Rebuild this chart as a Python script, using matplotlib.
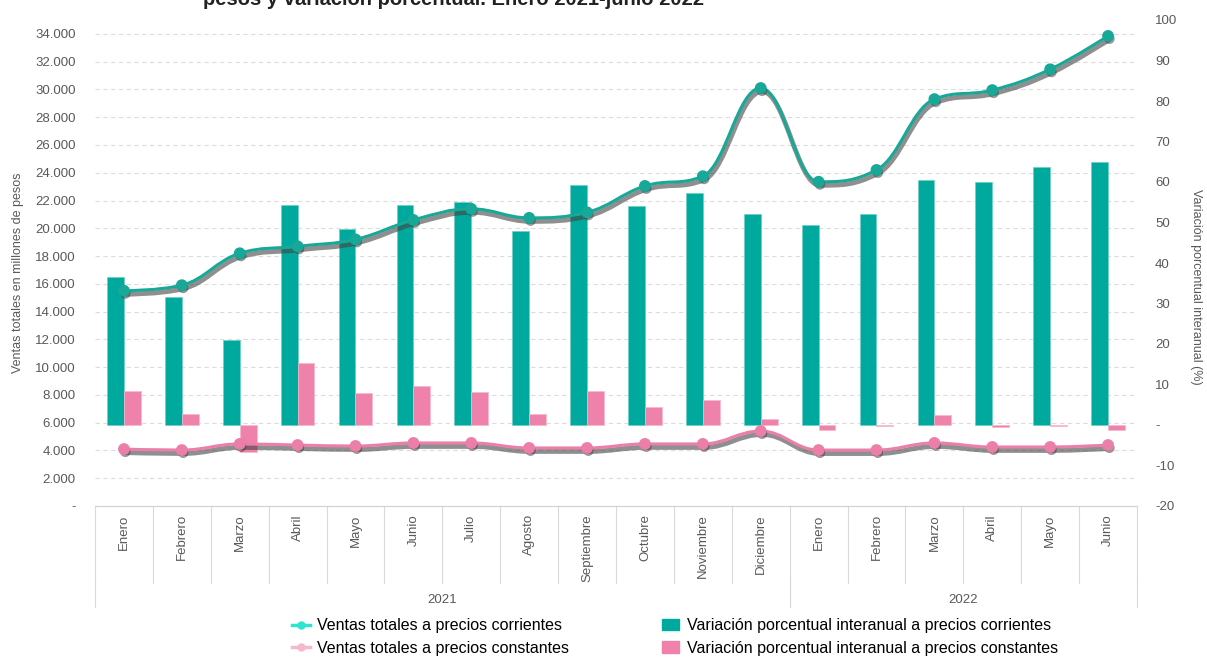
# Ventas totales y variación porcentual, enero 2021 - junio 2022

import numpy as np
import matplotlib
import matplotlib.pyplot as plt
import matplotlib.patheffects as pe
from matplotlib.path import Path
from matplotlib.patches import PathPatch
from matplotlib.lines import Line2D
from matplotlib.patches import Patch
from matplotlib.ticker import FuncFormatter

matplotlib.rcParams['font.family'] = ['Liberation Sans', 'DejaVu Sans']

# Dati

meses = ['Enero', 'Febrero', 'Marzo', 'Abril', 'Mayo', 'Junio', 'Julio', 'Agosto',
         'Septiembre', 'Octubre', 'Noviembre', 'Diciembre',
         'Enero', 'Febrero', 'Marzo', 'Abril', 'Mayo', 'Junio']
anios = ['2021', '2022']
meses_por_anio = [12, 6]

ventas_corrientes = [15500, 15900, 18200, 18700, 19200, 20600, 21400, 20750, 21150,
                     23050, 23750, 30100, 23350, 24200, 29300, 29950, 31450, 33850]
ventas_constantes = [4100, 4030, 4470, 4390, 4320, 4540, 4540, 4180, 4180,
                     4470, 4470, 5400, 4030, 4030, 4540, 4250, 4250, 4390]
var_corrientes = [36.6, 31.7, 21.0, 54.2, 48.3, 54.2, 55.0, 48.0, 59.2,
                  54.0, 57.2, 52.2, 49.5, 52.0, 60.6, 59.9, 63.6, 64.9]
var_constantes = [8.4, 2.7, -6.7, 15.3, 7.9, 9.7, 8.2, 2.7, 8.4,
                  4.5, 6.2, 1.5, -1.3, -0.3, 2.4, -0.6, -0.3, -1.2]

teal = '#00A99D'
pink = '#EE82AB'
txt = '#595959'


def spline_path(x, y):
    # curva tipo "spline" (maniglie di Bezier che passano per i punti)
    n = len(x)
    lc = [(x[i], y[i]) for i in range(n)]
    rc = [(x[i], y[i]) for i in range(n)]
    for i in range(1, n - 1):
        px, py, cx, cy, nx, ny = x[i-1], y[i-1], x[i], y[i], x[i+1], y[i+1]
        lx = (1.5 * cx + px) / 2.5
        ly = (1.5 * cy + py) / 2.5
        rx = (1.5 * cx + nx) / 2.5
        ry = (1.5 * cy + ny) / 2.5
        corr = (ry - ly) * (rx - cx) / (rx - lx) + cy - ry
        ly += corr
        ry += corr
        if ly > py and ly > cy:
            ly = max(py, cy); ry = 2 * cy - ly
        elif ly < py and ly < cy:
            ly = min(py, cy); ry = 2 * cy - ly
        if ry > ny and ry > cy:
            ry = max(ny, cy); ly = 2 * cy - ry
        elif ry < ny and ry < cy:
            ry = min(ny, cy); ly = 2 * cy - ry
        lc[i] = (lx, ly)
        rc[i] = (rx, ry)
    verts = [(x[0], y[0])]
    codes = [Path.MOVETO]
    for i in range(1, n):
        verts += [rc[i-1], lc[i], (x[i], y[i])]
        codes += [Path.CURVE4] * 3
    return Path(verts, codes)


x = np.arange(len(meses))

fig = plt.figure(figsize=(12.07, 6.57), dpi=100)
ax = fig.add_axes([95/1207, 1 - 506/657, (1137-95)/1207, 486/657])
ax2 = ax.twinx()
ax3 = ax.twinx()

# asse sinistro: griglia
ax.set_xlim(-0.5, len(meses) - 0.5)
ax.set_ylim(0, 35000)
ax.set_yticks(np.arange(0, 34001, 2000))
ax.yaxis.set_major_formatter(FuncFormatter(lambda v, p: '-' if v == 0 else f'{v:,.0f}'.replace(',', '.')))
ax.yaxis.grid(True, linestyle=(0, (4, 3)), color='#dcdcdc', linewidth=0.8)
ax.set_axisbelow(True)
ax.tick_params(axis='y', length=0, pad=14, labelsize=9.5, labelcolor=txt)
ax.set_xticks([])
for s in ['top', 'right', 'left']:
    ax.spines[s].set_visible(False)
ax.spines['bottom'].set_color('#d0d0d0')

# asse destro: barre
w = 0.29
ax2.bar(x - w/2, var_corrientes, w, color=teal, edgecolor='#6fd0c8', linewidth=0.5)
ax2.bar(x + w/2, var_constantes, w, color=pink, edgecolor='#f5b8cc', linewidth=0.5)
ax2.set_ylim(-20, 100)
ax2.set_yticks(np.arange(-20, 101, 10))
ax2.yaxis.set_major_formatter(FuncFormatter(lambda v, p: '-' if v == 0 else f'{v:.0f}'))
ax2.tick_params(axis='y', length=0, pad=13, labelsize=9.5, labelcolor=txt)
for s in ax2.spines.values():
    s.set_visible(False)

# linee
ax3.set_ylim(0, 35000)
ax3.set_yticks([])
for s in ax3.spines.values():
    s.set_visible(False)
ombra = [pe.SimpleLineShadow(offset=(1, -2.5), shadow_color='#444444', alpha=0.6, linewidth=3.5), pe.Normal()]
ombra_pt = [pe.SimplePatchShadow(offset=(1, -2), shadow_rgbFace='#444444', alpha=0.55), pe.Normal()]
for serie, col in [(ventas_corrientes, '#17A898'), (ventas_constantes, '#EC7FAA')]:
    patch = PathPatch(spline_path(x, serie), facecolor='none', edgecolor=col, linewidth=2.2)
    patch.set_path_effects(ombra)
    ax3.add_patch(patch)
    ax3.plot(x, serie, 'o', color=col, markersize=7.5, path_effects=ombra_pt)

# categorie asse x (mesi e anni)
tr = ax.get_xaxis_transform()
for i, m in enumerate(meses):
    ax.text(i, -0.017, m, rotation=90, ha='center', va='top', fontsize=9.5, color=txt, transform=tr)
for i in range(len(meses) + 1):
    ax.plot([i - 0.5, i - 0.5], [0, -0.158], color='#d9d9d9', lw=0.8, transform=tr, clip_on=False)
inizio = -0.5
for a, n in zip(anios, meses_por_anio):
    ax.text(inizio + n/2, -0.194, a, ha='center', va='center', fontsize=9.5, color=txt, transform=tr)
    for xx in [inizio, inizio + n]:
        ax.plot([xx, xx], [-0.158, -0.208], color='#d9d9d9', lw=0.8, transform=tr, clip_on=False)
    inizio += n

# etichette assi e titolo
fig.text(18/1207, 1 - 273/657, 'Ventas totales en millones de pesos', rotation=90,
         ha='center', va='center', fontsize=9, color=txt)
fig.text(1196/1207, 1 - 287/657, 'Variación porcentual interanual (%)', rotation=270,
         ha='center', va='center', fontsize=9, color=txt)
fig.text(454/1207, 1 - 5/657, 'pesos y variación porcentual. Enero 2021-junio 2022',
         ha='center', va='baseline', fontsize=14.5, fontweight='bold', color='#222222')

# legenda
handles = [Line2D([], [], color='#2EE3D0', lw=2.5, marker='o', markersize=5),
           Line2D([], [], color='#F5B8CC', lw=2.5, marker='o', markersize=5),
           Patch(color=teal), Patch(color=pink)]
labels = ['Ventas totales a precios corrientes', 'Ventas totales a precios constantes',
          'Variación porcentual interanual a precios corrientes',
          'Variación porcentual interanual a precios constantes']
fig.legend(handles, labels, ncol=2, loc='center', bbox_to_anchor=(675/1207, 1 - 637/657),
           frameon=False, fontsize=11.5, handlelength=1.1, handletextpad=0.45,
           columnspacing=5.8, labelspacing=0.45, borderaxespad=0, borderpad=0)

plt.savefig('out.png', dpi=100)
